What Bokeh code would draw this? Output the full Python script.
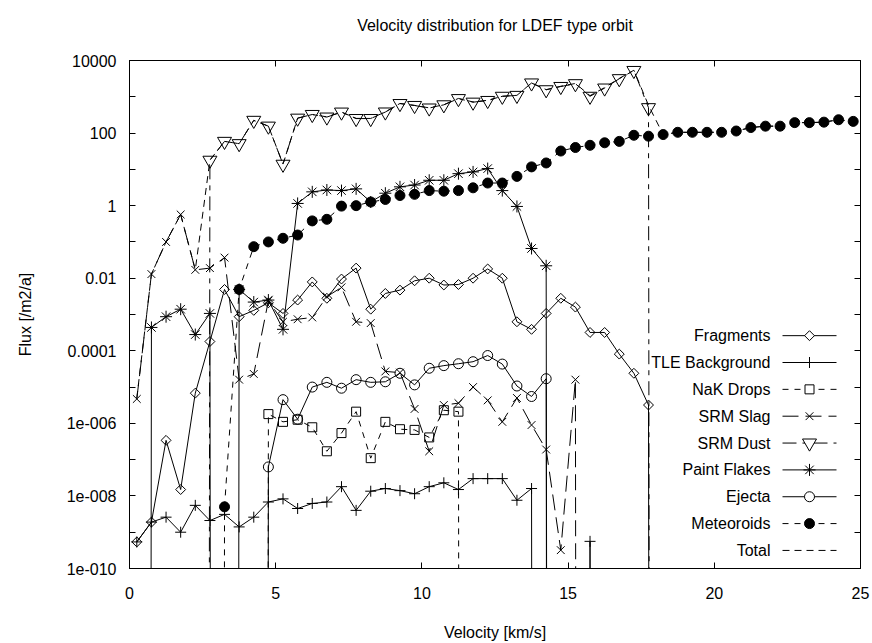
import math
from bokeh.plotting import figure
from bokeh.models import (Range1d, LinearScale, LinearAxis, LogAxis, FixedTicker,
                          CustomJSTickFormatter)
from bokeh.embed import file_html
from bokeh.resources import INLINE
from bokeh.core.properties import value

NAN = float("nan")

# ---------------- data (flux per velocity bin, /m2/a) ----------------
velocity = [0.25, 0.75, 1.25, 1.75, 2.25, 2.75, 3.25, 3.75, 4.25, 4.75,
            5.25, 5.75, 6.25, 6.75, 7.25, 7.75, 8.25, 8.75, 9.25, 9.75,
            10.25, 10.75, 11.25, 11.75, 12.25, 12.75, 13.25, 13.75, 14.25, 14.75,
            15.25, 15.75, 16.25, 16.75, 17.25, 17.75, 18.25, 18.75, 19.25, 19.75,
            20.25, 20.75, 21.25, 21.75, 22.25, 22.75, 23.25, 23.75, 24.25, 24.75]

fragments = [5.4e-10, 1.9e-9, 3.4e-7, 1.5e-8, 6.8e-6, 1.8e-4, 4.9e-3, 8.7e-4, 1.3e-3, 2.1e-3,
             1.07e-3, 2.5e-3, 7.9e-3, 2.8e-3, 9.5e-3, 0.019, 1.4e-3, 3.8e-3, 4.7e-3, 8.5e-3,
             0.010, 6.5e-3, 6.7e-3, 0.010, 0.018, 0.010, 6.3e-4, 3.9e-4, 1.07e-3, 2.8e-3,
             1.6e-3, 3.2e-4, 3.2e-4, 8.1e-5, 2.4e-5, 3.2e-6, 0.0, NAN, NAN, NAN,
             NAN, NAN, NAN, NAN, NAN, NAN, NAN, NAN, NAN, NAN]

tle_background = [5.4e-10, 1.9e-9, 2.6e-9, 1.0e-9, 5.5e-9, 2.1e-9, 3.1e-9, 1.4e-9, 2.6e-9, 6.8e-9,
                  8.3e-9, 4.5e-9, 6.2e-9, 6.8e-9, 1.8e-8, 4.0e-9, 1.35e-8, 1.6e-8, 1.4e-8, 1.15e-8,
                  1.8e-8, 2.3e-8, 1.5e-8, 3.0e-8, 3.0e-8, 3.0e-8, 7.6e-9, 1.6e-8, 0.0, 0.0,
                  0.0, 5.6e-10, 0.0, NAN, NAN, NAN, NAN, NAN, NAN, NAN,
                  NAN, NAN, NAN, NAN, NAN, NAN, NAN, NAN, NAN, NAN]

nak_drops = [NAN, NAN, NAN, NAN, NAN, NAN, NAN, NAN, 0.0, 1.8e-6,
             1.1e-6, 1.26e-6, 7.8e-7, 1.7e-7, 5.4e-7, 2.1e-6, 1.1e-7, 1.1e-6, 6.9e-7, 6.6e-7,
             4.1e-7, 2.3e-6, 2.1e-6, 0.0, NAN, NAN, NAN, NAN, NAN, NAN,
             NAN, NAN, NAN, NAN, NAN, NAN, NAN, NAN, NAN, NAN,
             NAN, NAN, NAN, NAN, NAN, NAN, NAN, NAN, NAN, NAN]

srm_slag = [4.7e-6, 0.013, 0.10, 0.57, 0.017, 0.019, 0.037, 1.6e-5, 2.3e-5, 2.4e-3,
            6.3e-4, 7.4e-4, 8.3e-4, 3.1e-3, 5.6e-3, 6.3e-4, 5.8e-4, 2.7e-5, 2.5e-5, 2.5e-6,
            1.7e-7, 3.2e-6, 3.6e-6, 1.0e-5, 4.3e-6, 1.1e-6, 5.0e-6, 9.0e-7, 1.9e-7, 3.2e-10,
            1.6e-5, 0.0, NAN, NAN, NAN, NAN, NAN, NAN, NAN, NAN,
            NAN, NAN, NAN, NAN, NAN, NAN, NAN, NAN, NAN, NAN]

srm_dust = [NAN, NAN, NAN, NAN, 0.0, 17.8, 59, 51, 224, 155,
            13.8, 257, 325, 276, 378, 251, 251, 380, 650, 575,
            490, 600, 890, 710, 790, 1030, 1090, 2400, 1560, 1920,
            2290, 1030, 1740, 3150, 5300, 500, 0.0, NAN, NAN, NAN,
            NAN, NAN, NAN, NAN, NAN, NAN, NAN, NAN, NAN, NAN]

paint_flakes = [0.0, 4.4e-4, 8.7e-4, 1.4e-3, 2.8e-4, 1.07e-3, 0.0, 4.9e-3, 2.2e-3, 2.5e-3,
                3.9e-4, 1.15, 2.4, 2.7, 2.6, 2.9, 1.26, 2.2, 3.3, 3.7,
                5.0, 5.0, 7.6, 8.5, 10.5, 2.6, 0.95, 0.066, 0.022, 0.0,
                NAN, NAN, NAN, NAN, NAN, NAN, NAN, NAN, NAN, NAN,
                NAN, NAN, NAN, NAN, NAN, NAN, NAN, NAN, NAN, NAN]

ejecta = [NAN, NAN, NAN, NAN, NAN, NAN, NAN, NAN, 0.0, 6.3e-8,
          4.5e-6, 1.3e-6, 1.0e-5, 1.35e-5, 9.3e-6, 1.6e-5, 1.35e-5, 1.4e-5, 2.4e-5, 1.15e-5,
          3.3e-5, 3.9e-5, 4.4e-5, 5.0e-5, 7.4e-5, 4.3e-5, 1.07e-5, 5.5e-6, 1.7e-5, 0.0,
          NAN, NAN, NAN, NAN, NAN, NAN, NAN, NAN, NAN, NAN,
          NAN, NAN, NAN, NAN, NAN, NAN, NAN, NAN, NAN, NAN]

meteoroids = [NAN, NAN, NAN, NAN, NAN, 0.0, 5.0e-9, 4.9e-3, 0.074, 0.10,
              0.126, 0.155, 0.38, 0.42, 0.97, 1.0, 1.26, 1.48, 1.9, 2.05,
              2.6, 2.5, 2.6, 3.1, 4.2, 4.2, 6.4, 11.7, 15, 32,
              40, 46, 54, 59, 87, 82, 91, 105, 105, 105,
              105, 114, 142, 155, 155, 194, 194, 200, 233, 210]

total = [5.0e-6, 0.013, 0.10, 0.57, 0.017, 18, 59, 51, 224, 155,
         14, 258, 325, 280, 380, 254, 253, 383, 655, 580,
         495, 605, 900, 720, 800, 1035, 1095, 2410, 1575, 1950,
         2330, 1075, 1795, 3210, 5390, 582, 91, 105, 105, 105,
         105, 114, 142, 155, 155, 194, 194, 200, 233, 210]

x_ticks = [0, 5, 10, 15, 20, 25]
y_ticks = [1e-10, 1e-9, 1e-8, 1e-7, 1e-6, 1e-5, 1e-4, 1e-3, 1e-2, 1e-1, 1, 10, 100, 1e3, 1e4]
y_tick_labels = ["1e-010", "", "1e-008", "", "1e-006", "", "0.0001", "", "0.01", "", "1", "",
                 "100", "", "10000"]

title_text = "Velocity distribution for LDEF type orbit"
x_label = "Velocity [km/s]"
y_label = "Flux [/m2/a]"

# ---------------- styling ----------------
FONT = "Liberation Sans"
FS = "16px"
W, H = 872, 643
ML, MR, MT, MB = 129, 12, 60, 74
FW, FH = W - ML - MR, H - MT - MB
FLOOR = 1e-300   # a zero flux drops off the bottom of the log axis

series = [
    # name, values, marker, size, line_dash, fill, angle
    ("Fragments", fragments, "square", 7, "solid", None, math.pi / 4),
    ("TLE Background", tle_background, "cross", 11, "solid", None, 0),
    ("NaK Drops", nak_drops, "square", 9, "6 6", None, 0),
    ("SRM Slag", srm_slag, "x", 11, "16 7", None, 0),
    ("SRM Dust", srm_dust, "inverted_triangle", 14, "14 6 5 6", None, 0),
    ("Paint Flakes", paint_flakes, "asterisk", 12, "solid", None, 0),
    ("Ejecta", ejecta, "circle", 10, "solid", None, 0),
    ("Meteoroids", meteoroids, "circle", 10, "6 6", "black", 0),
    ("Total", total, None, 0, "7 5", None, 0),
]

p = figure(width=W, height=H, x_range=Range1d(0, 25), y_range=Range1d(1e-10, 1e4),
           y_axis_type="log", output_backend="svg", toolbar_location=None,
           min_border_left=ML, min_border_right=MR, min_border_top=MT, min_border_bottom=MB,
           title=title_text + "\n ")
p.xgrid.visible = False
p.ygrid.visible = False
p.outline_line_color = "black"
p.outline_line_width = 1
p.background_fill_color = "white"
p.border_fill_color = "white"

p.title.align = "center"
p.title.text_font = FONT
p.title.text_font_size = FS
p.title.text_font_style = "normal"
p.title.text_color = "black"
p.title.standoff = 20

p.extra_x_ranges = {"px": Range1d(0, FW)}
p.extra_y_ranges = {"px": Range1d(0, FH)}
p.extra_y_scales = {"px": LinearScale()}

yfmt = CustomJSTickFormatter(args=dict(vals=y_ticks, labs=y_tick_labels), code="""
let best = 0, bd = Infinity;
for (let i = 0; i < vals.length; i++) {
  const d = Math.abs(Math.log10(vals[i]) - Math.log10(tick));
  if (d < bd) { bd = d; best = i; }
}
return labs[best];
""")
blank = CustomJSTickFormatter(code="return '';")


def style_axis(ax, labels=True):
    ax.axis_line_color = "black"
    ax.major_tick_in = 6
    ax.major_tick_out = 0
    ax.minor_tick_in = 0
    ax.minor_tick_out = 0
    ax.major_tick_line_color = "black"
    ax.major_label_text_font = FONT
    ax.major_label_text_color = "black"
    ax.axis_label_text_font = FONT
    ax.axis_label_text_font_size = FS
    ax.axis_label_text_font_style = "normal"
    ax.axis_label_text_color = "black"
    if labels:
        ax.major_label_text_font_size = FS
    else:
        ax.major_label_text_font_size = "0px"
        ax.major_label_standoff = 0


xa = p.xaxis[0]
xa.ticker = FixedTicker(ticks=x_ticks, minor_ticks=[])
style_axis(xa)
xa.major_label_standoff = 18
xa.axis_label = x_label
xa.axis_label_standoff = 22

ya = p.yaxis[0]
ya.ticker = FixedTicker(ticks=y_ticks, minor_ticks=[])
ya.formatter = yfmt
style_axis(ya)
ya.major_label_standoff = 13
ya.axis_label = y_label
ya.axis_label_standoff = 30

top = LinearAxis(ticker=FixedTicker(ticks=x_ticks, minor_ticks=[]), formatter=blank)
style_axis(top, labels=False)
p.add_layout(top, "above")
right = LogAxis(ticker=FixedTicker(ticks=y_ticks, minor_ticks=[]), formatter=blank)
style_axis(right, labels=False)
p.add_layout(right, "right")

# ---------------- series ----------------
for name, vals, marker, size, dash, fill, ang in series:
    ys = [v if (v != v) else (v if v > 0 else FLOOR) for v in vals]
    p.line(velocity, ys, line_color="black", line_width=1, line_dash=dash)
    if marker:
        xs_m = [x for x, v in zip(velocity, vals) if v == v and v > 0]
        ys_m = [v for v in vals if v == v and v > 0]
        p.scatter(xs_m, ys_m, marker=marker, size=size, angle=ang,
                  line_color="black", line_width=1,
                  fill_color=fill, fill_alpha=1.0 if fill else 0.0)

# ---------------- legend (gnuplot style: text left, sample right) ----------------
LEG_TEXT_X = 641
LEG_X0, LEG_X1, LEG_XM = 653, 707, 680
LEG_TOP = 233.3
ROW = 26.9
names = [s[0] for s in series]
rows_y = [LEG_TOP - i * ROW for i in range(len(series))]
p.text(x=[LEG_TEXT_X] * len(series), y=rows_y, text=names, x_range_name="px",
       y_range_name="px", text_align="right", text_baseline="middle",
       text_font=value(FONT), text_font_size=FS, text_color="black")
for (name, vals, marker, size, dash, fill, ang), yy in zip(series, rows_y):
    p.segment(x0=[LEG_X0], y0=[yy], x1=[LEG_X1], y1=[yy], x_range_name="px",
              y_range_name="px", line_color="black", line_width=1, line_dash=dash)
    if marker:
        p.scatter([LEG_XM], [yy], marker=marker, size=size, angle=ang,
                  x_range_name="px", y_range_name="px", line_color="black",
                  line_width=1, fill_color=fill if fill else "white",
                  fill_alpha=1.0)

open("out.html", "w").write(file_html(p, INLINE))
